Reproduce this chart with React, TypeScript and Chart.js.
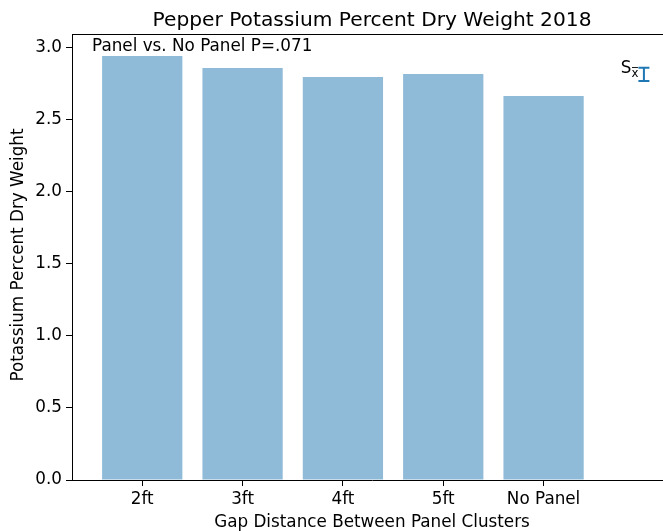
import React, { useEffect, useRef } from "react";
import { Chart, registerables } from "chart.js";

Chart.register(...registerables);

const categories = ["2ft", "3ft", "4ft", "5ft", "No Panel"];
const potassium = [2.944, 2.861, 2.799, 2.819, 2.667];
const yTicks = [0, 0.5, 1.0, 1.5, 2.0, 2.5, 3.0];
const errX = [5];
const errMean = [2.817];
const errSem = [0.046];
const titleText = "Pepper Potassium Percent Dry Weight 2018";
const xLabel = "Gap Distance Between Panel Clusters";
const yLabel = "Potassium Percent Dry Weight";
const noteText = "Panel vs. No Panel P=.071";
const noteAt = [-0.5, 2.98];
const semLabelAt = [4.77, 2.826];

const FONT = '"DejaVu Sans", sans-serif';
const FS = 16.8;
const TITLE_FS = 20.2;

const decorPlugin = {
  id: "decor",
  afterDraw(chart: any) {
    const { ctx, chartArea: ca, scales } = chart;
    const xs = scales.x;
    const ys = scales.y;
    ctx.save();
    // top and right spines
    ctx.strokeStyle = "#000";
    ctx.lineWidth = 1;
    ctx.beginPath();
    ctx.moveTo(ca.left, Math.round(ca.top) + 0.5);
    ctx.lineTo(ca.right, Math.round(ca.top) + 0.5);
    ctx.moveTo(Math.round(ca.right) + 0.5, ca.top);
    ctx.lineTo(Math.round(ca.right) + 0.5, ca.bottom);
    ctx.stroke();

    ctx.fillStyle = "#000";
    // title
    ctx.font = `${TITLE_FS}px ${FONT}`;
    ctx.textAlign = "center";
    ctx.textBaseline = "alphabetic";
    ctx.fillText(titleText, (ca.left + ca.right) / 2, 26);

    // x label
    ctx.font = `${FS}px ${FONT}`;
    ctx.textBaseline = "alphabetic";
    ctx.fillText(xLabel, (ca.left + ca.right) / 2, 527);

    // y label
    ctx.save();
    ctx.translate(19, 255);
    ctx.rotate(-Math.PI / 2);
    ctx.textAlign = "center";
    ctx.textBaseline = "middle";
    ctx.fillText(yLabel, 0, 0);
    ctx.restore();

    // note
    ctx.textAlign = "left";
    ctx.textBaseline = "alphabetic";
    ctx.fillText(noteText, xs.getPixelForValue(noteAt[0]), ys.getPixelForValue(noteAt[1]));

    // S_xbar label
    const sx = xs.getPixelForValue(semLabelAt[0]);
    const sy = ys.getPixelForValue(semLabelAt[1]);
    ctx.fillText("S", sx, sy);
    const sw = ctx.measureText("S").width;
    ctx.font = `11.8px ${FONT}`;
    ctx.fillText("x", sx + sw, sy + 3.5);
    const xw = ctx.measureText("x").width;
    ctx.strokeStyle = "#000";
    ctx.lineWidth = 0.9;
    ctx.beginPath();
    ctx.moveTo(sx + sw + 0.5, sy - 5.5);
    ctx.lineTo(sx + sw + xw - 0.5, sy - 5.5);
    ctx.stroke();

    // error bar
    ctx.strokeStyle = "#1f77b4";
    ctx.lineWidth = 2;
    for (let i = 0; i < errX.length; i++) {
      const px = xs.getPixelForValue(errX[i]);
      const top = ys.getPixelForValue(errMean[i] + errSem[i]);
      const bot = ys.getPixelForValue(errMean[i] - errSem[i]);
      ctx.beginPath();
      ctx.moveTo(px, top);
      ctx.lineTo(px, bot);
      ctx.moveTo(px - 5.5, top);
      ctx.lineTo(px + 5.5, top);
      ctx.moveTo(px - 5.5, bot);
      ctx.lineTo(px + 5.5, bot);
      ctx.stroke();
    }
    ctx.restore();
  },
};

export default function App() {
  const ref = useRef<HTMLCanvasElement>(null);
  useEffect(() => {
    const canvas = ref.current!;
    const chart = new Chart(canvas, {
      type: "bar",
      data: {
        datasets: [
          {
            data: categories.map((_, i) => ({ x: i, y: potassium[i] })) as any,
            backgroundColor: "rgba(31,119,180,0.5)",
            borderWidth: 0,
            barPercentage: 0.8,
            categoryPercentage: 1,
          },
        ],
      },
      options: {
        responsive: false,
        animation: false,
        devicePixelRatio: 1,
        layout: { padding: { left: 0, right: 8, top: 34, bottom: 0 } },
        plugins: {
          legend: { display: false },
          tooltip: { enabled: false },
          title: { display: false },
        },
        scales: {
          x: {
            type: "linear",
            min: -0.7,
            max: 5.28,
            offset: false,
            afterBuildTicks: (s: any) => {
              s.ticks = categories.map((_, i) => ({ value: i }));
            },
            ticks: {
              callback: (v: any) => categories[v] ?? "",
              autoSkip: false,
              maxRotation: 0,
              font: { family: FONT, size: FS },
              color: "#000",
              padding: 4,
            },
            grid: {
              offset: false,
              drawOnChartArea: false,
              drawTicks: true,
              tickLength: 6,
              tickColor: "#000",
              color: "#000",
            },
            border: { display: true, color: "#000", width: 1 },
            afterFit: (s: any) => {
              s.height = 51;
            },
          },
          y: {
            min: 0,
            max: 3.097,
            afterBuildTicks: (s: any) => {
              s.ticks = yTicks.map((v) => ({ value: v }));
            },
            ticks: {
              callback: (v: any) => Number(v).toFixed(1),
              font: { family: FONT, size: FS },
              color: "#000",
              padding: 4,
            },
            grid: {
              drawOnChartArea: false,
              drawTicks: true,
              tickLength: 6,
              tickColor: "#000",
              color: "#000",
            },
            border: { display: true, color: "#000", width: 1 },
            afterFit: (s: any) => {
              s.width = 72;
            },
          },
        },
      } as any,
      plugins: [decorPlugin],
    });
    return () => chart.destroy();
  }, []);
  return (
    <div
      style={{
        position: "fixed",
        left: 0,
        top: 0,
        width: 663,
        height: 531,
        overflow: "hidden",
        background: "#fff",
      }}
    >
      <canvas ref={ref} width={680} height={531} style={{ display: "block", width: 680, height: 531 }} />
    </div>
  );
}
